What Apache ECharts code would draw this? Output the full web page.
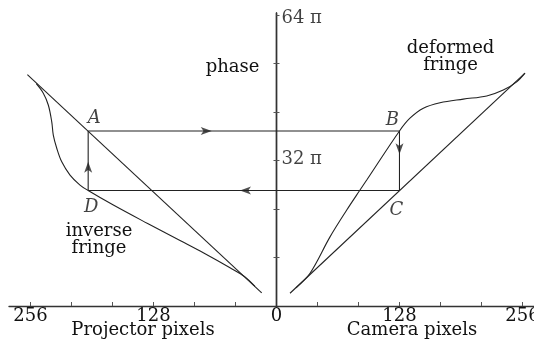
<!DOCTYPE html>
<html>
<head>
<meta charset="utf-8">
<script src="https://cdn.jsdelivr.net/npm/echarts@6/dist/echarts.min.js"></script>
<style>
  html, body { margin: 0; padding: 0; background: #fff; }
  #chart { width: 534px; height: 355px; }
</style>
</head>
<body>
<div id="chart"></div>
<script>
// Projector pixels are plotted to the left of 0 (as negative x), camera pixels to the right.
// Phase is expressed in units of π.
const xTickValues = [-256, -213.33, -170.67, -128, -85.33, -42.67, 42.67, 85.33, 128, 170.67, 213.33, 256];
const xLabelValues = [-256, -128, 0, 128, 256];
const yTickValues = [10.67, 21.33, 32, 42.67, 53.33, 64];
const yLabelValues = [32, 64];

// linear projector fringe phase
const projectorLine = [[-259.3, 50.9], [-15.4, 2.9]];
// inverse fringe (projector side)
const inverseFringe = [
  [-250, 48.9], [-242.7, 46.8], [-237.5, 44.2], [-233.9, 40.5], [-232.3, 37.6],
  [-228.7, 34.7], [-223.5, 31.7], [-214.9, 28.8], [-204.5, 26.6], [-196, 25.4],
  [-169.8, 22.2], [-135.1, 18.25], [-100.4, 14.4], [-76.2, 11.7], [-48.4, 8.4],
  [-32.8, 6.4], [-22.4, 4.3]
];
// linear camera phase
const cameraLine = [[14.05, 2.8], [258.6, 51.2]];
// deformed fringe (camera side)
const deformedFringe = [
  [20.3, 4.0], [34.9, 7.2], [55.7, 15.2], [73.1, 21.1], [86.9, 25.5], [93.9, 27.7],
  [128, 38.5], [138.9, 41.3], [152.8, 43.5], [170.2, 44.7],
  [194.4, 45.5], [218.8, 46.2], [236.0, 47.5], [250.0, 49.3], [258.6, 51.2]
];
// mapping loop A -> B -> C -> D -> A
const loopNames = ['A', 'B', 'C', 'D'];
const loopPoints = [[-196, 38.5], [128, 38.5], [128, 25.4], [-196, 25.4]];
const arrowPoints = [[-67.4, 38.5], [128, 33.4], [-38, 25.4], [-196, 31.7]];
const arrowAngles = [-90, 180, 90, 0];

const FONT = 'DejaVu Serif';
const INK = '#222';

const chart = echarts.init(document.getElementById('chart'), null, { renderer: 'canvas' });

const labelOffsets = [[6, -13], [-7, -11], [-3, 20], [3, 17]];
const curveStyle = { color: INK, width: 1.1 };

function phaseAxis(tickInside, ticks) {
  return {
    type: 'value',
    min: 0,
    max: 64.44,
    position: 'left',
    splitLine: { show: false },
    axisLine: { show: true, onZero: true, onZeroAxisIndex: 0, lineStyle: { color: '#333', width: 1.4 } },
    axisTick: { show: true, inside: tickInside, length: 3, customValues: ticks, lineStyle: { color: '#555', width: 1 } },
    axisLabel: { show: false }
  };
}

chart.setOption({
  animation: false,
  backgroundColor: '#fff',
  grid: { left: 9, right: 0, top: 13, bottom: 49, containLabel: false, outerBoundsMode: 'none' },
  xAxis: {
    type: 'value',
    min: -278.4,
    max: 268.0,
    splitLine: { show: false },
    axisLine: { show: true, onZero: false, lineStyle: { color: '#333', width: 1.4 } },
    axisTick: { show: true, inside: true, length: 4, customValues: xTickValues, lineStyle: { color: '#555', width: 1 } },
    axisLabel: {
      customValues: xLabelValues,
      formatter: v => String(Math.abs(Math.round(v))),
      color: '#111', fontFamily: FONT, fontSize: 18, margin: 1
    }
  },
  yAxis: [phaseAxis(true, yTickValues), phaseAxis(false, yTickValues.slice(0, 5))],
  series: [
    { type: 'line', data: projectorLine, showSymbol: false, silent: true, lineStyle: curveStyle },
    { type: 'line', data: inverseFringe, smooth: 0.35, showSymbol: false, silent: true, lineStyle: curveStyle },
    { type: 'line', data: cameraLine, showSymbol: false, silent: true, lineStyle: curveStyle },
    { type: 'line', data: deformedFringe, smooth: 0.35, showSymbol: false, silent: true, lineStyle: curveStyle },
    {
      type: 'line',
      data: loopPoints.concat([loopPoints[0]]),
      showSymbol: false, silent: true,
      lineStyle: { color: INK, width: 1.1 }
    },
    {
      type: 'scatter',
      silent: true,
      data: arrowPoints.map((p, i) => ({ value: p, symbolRotate: arrowAngles[i] })),
      symbol: 'arrow',
      symbolSize: [6, 11],
      itemStyle: { color: INK }
    },
    {
      // corner letters of the mapping loop
      type: 'scatter',
      silent: true,
      symbolSize: 0,
      data: loopPoints.map((p, i) => ({
        value: p,
        name: loopNames[i],
        label: { offset: labelOffsets[i] }
      })),
      label: {
        show: true,
        position: 'inside',
        formatter: p => p.name,
        color: '#111', fontFamily: FONT, fontStyle: 'italic', fontSize: 18
      }
    },
    {
      // phase tick labels beside the vertical axis
      type: 'scatter',
      silent: true,
      symbolSize: 0,
      data: yLabelValues.map(v => ({
        value: [0, v],
        label: { offset: v >= 60 ? [0, 3] : [0, -1] }
      })),
      label: {
        show: true,
        position: 'right',
        distance: 5,
        formatter: p => p.value[1] + ' π',
        color: '#111', fontFamily: FONT, fontSize: 18
      }
    }
  ],
  graphic: [
    { type: 'text', x: 232.5, y: 67.5, style: { text: 'phase', font: '18px "DejaVu Serif"', fill: '#111', align: 'center', verticalAlign: 'middle' } },
    { type: 'text', x: 450.6, y: 57, style: { text: 'deformed\nfringe', font: '18px "DejaVu Serif"', lineHeight: 17, fill: '#111', align: 'center', verticalAlign: 'middle' } },
    { type: 'text', x: 99, y: 239.5, style: { text: 'inverse\nfringe', font: '18px "DejaVu Serif"', lineHeight: 17, fill: '#111', align: 'center', verticalAlign: 'middle' } },
    { type: 'text', x: 143, y: 330.5, style: { text: 'Projector pixels', font: '18px "DejaVu Serif"', fill: '#111', align: 'center', verticalAlign: 'middle' } },
    { type: 'text', x: 412, y: 330.5, style: { text: 'Camera pixels', font: '18px "DejaVu Serif"', fill: '#111', align: 'center', verticalAlign: 'middle' } }
  ]
});
</script>
</body>
</html>
